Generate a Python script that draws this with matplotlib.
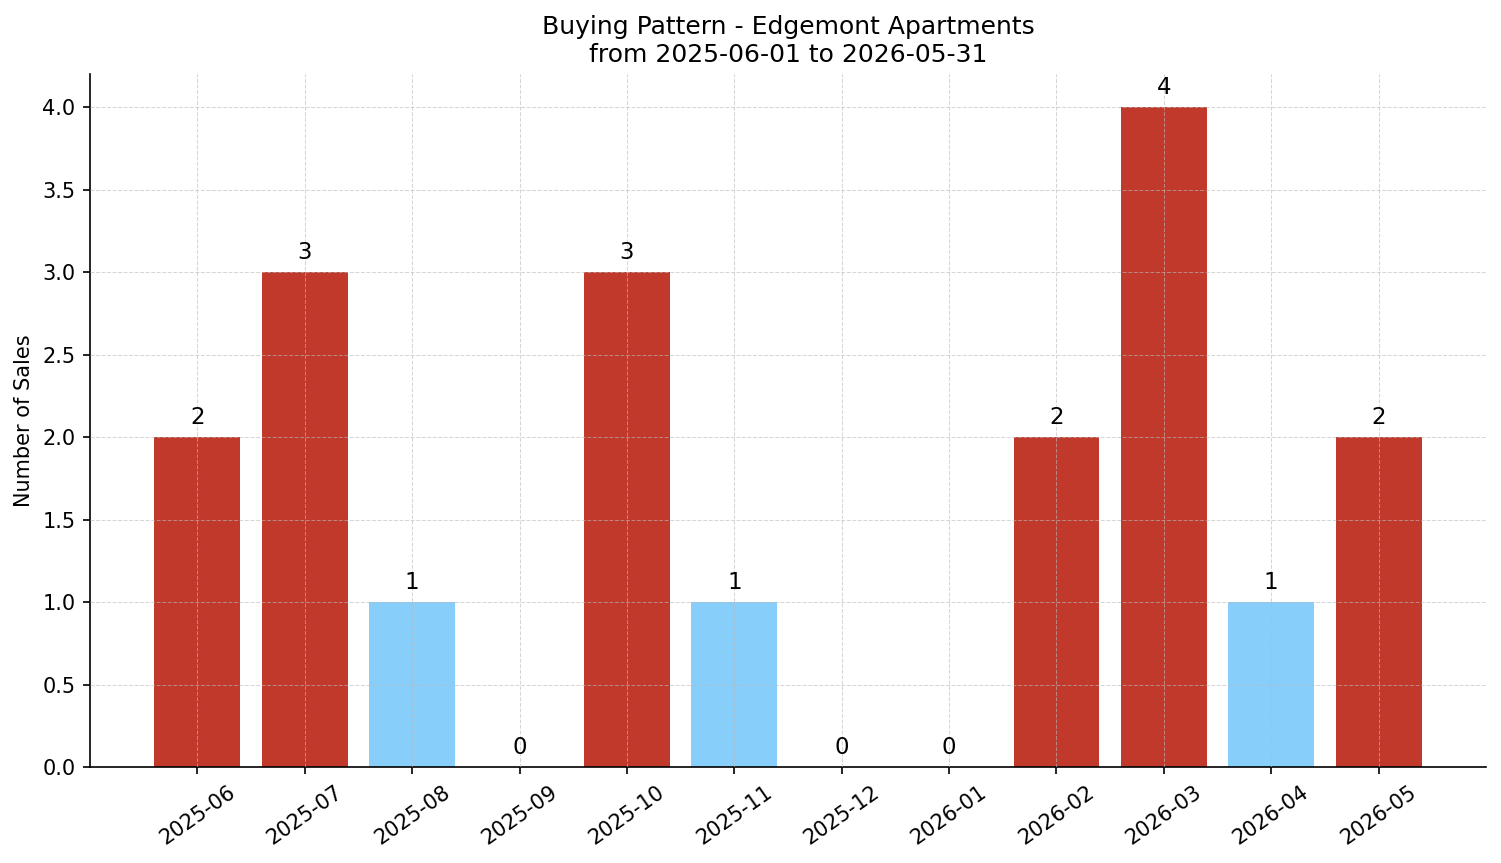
import matplotlib
matplotlib.use("Agg")
import matplotlib.pyplot as plt

months = ["2025-06", "2025-07", "2025-08", "2025-09", "2025-10", "2025-11",
          "2025-12", "2026-01", "2026-02", "2026-03", "2026-04", "2026-05"]
sales = [2, 3, 1, 0, 3, 1, 0, 0, 2, 4, 1, 2]

RED = "#C0392B"
BLUE = "#87CEFA"
colors = [RED if v >= 2 else BLUE for v in sales]

fig, ax = plt.subplots(figsize=(15.01 / 1.5, 8.63 / 1.5), dpi=150)
x = list(range(len(months)))
bars = ax.bar(x, sales, width=0.8, color=colors, zorder=1)
for xi, v in zip(x, sales):
    ax.text(xi, v + 0.05, str(v), ha="center", va="bottom", fontsize=11)

ax.set_xticks(x)
ax.set_xticklabels(months, rotation=35, ha="center", fontsize=10)
ax.tick_params(axis="y", labelsize=10)
ax.set_xlim(-1, 12)
ax.set_ylim(0, 4.2)
ax.set_ylabel("Number of Sales", fontsize=10)
ax.set_title("Buying Pattern - Edgemont Apartments\nfrom 2025-06-01 to 2026-05-31", fontsize=12)
ax.grid(True, linestyle="--", linewidth=0.5, color="#bbbbbb", alpha=0.6, zorder=2)
ax.set_axisbelow(False)
ax.spines["top"].set_visible(False)
ax.spines["right"].set_visible(False)

fig.subplots_adjust(left=0.06, right=0.99, top=0.914, bottom=0.111)
fig.savefig("out.png", dpi=150)
